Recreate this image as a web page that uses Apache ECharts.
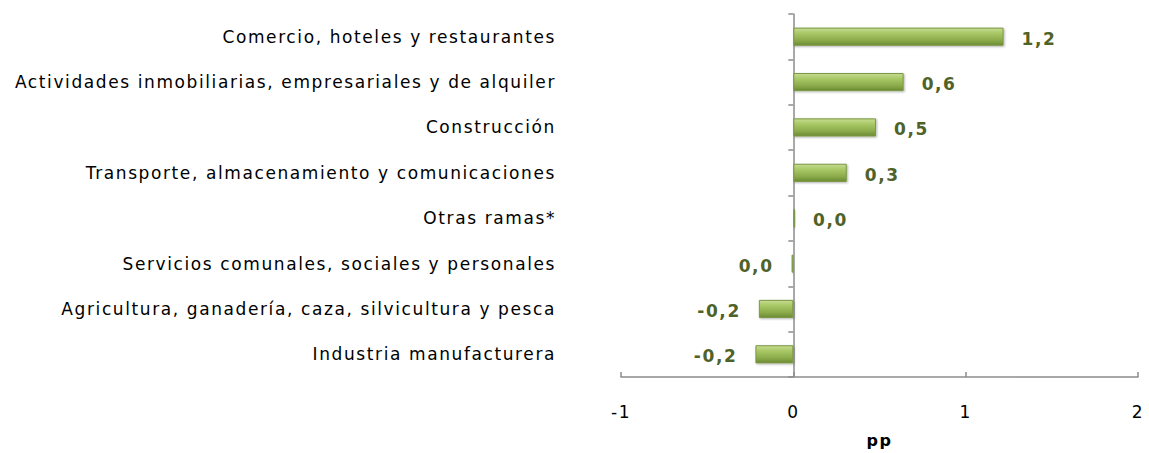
<!DOCTYPE html>
<html>
<head>
<meta charset="utf-8">
<script src="https://cdn.jsdelivr.net/npm/echarts@6/dist/echarts.min.js"></script>
<style>
html,body{margin:0;padding:0;background:#fff}
#c{width:1149px;height:453px}
#c svg text{letter-spacing:1.6px}
</style>
</head>
<body>
<div id="c"></div>
<script>
const categories = [
  'Comercio, hoteles y restaurantes',
  'Actividades inmobiliarias, empresariales y de alquiler',
  'Construcción',
  'Transporte, almacenamiento y comunicaciones',
  'Otras ramas*',
  'Servicios comunales, sociales y personales',
  'Agricultura, ganadería, caza, silvicultura y pesca',
  'Industria manufacturera'
];
const values = [1.22, 0.64, 0.48, 0.31, 0.01, -0.01, -0.2, -0.22];
const xTicks = [-1, 0, 1, 2];

const fmt = v => {
  const r = Math.round(v * 10) / 10;
  return (r === 0 ? 0 : r).toFixed(1).replace('.', ',');
};

const chart = echarts.init(document.getElementById('c'), null, { renderer: 'svg' });
const fontFam = '"DejaVu Sans", sans-serif';
chart.setOption({
  animation: false,
  grid: { left: 621, right: 11, top: 14, bottom: 75, containLabel: false },
  xAxis: {
    type: 'value', min: xTicks[0], max: xTicks[xTicks.length - 1], interval: 1,
    axisLine: { show: true, lineStyle: { color: '#8c8c8c', width: 1.5 } },
    axisTick: { show: true, inside: true, length: 5, lineStyle: { color: '#8c8c8c', width: 1.5 } },
    splitLine: { show: false },
    axisLabel: { color: '#000', fontSize: 17, fontFamily: fontFam, margin: 26 },
    name: 'pp', nameLocation: 'middle', nameGap: 55,
    nameTextStyle: { fontWeight: 'bold', fontSize: 16, fontFamily: fontFam, color: '#000' }
  },
  yAxis: [
    {
      type: 'category', data: categories, inverse: true,
      axisLine: { show: false, onZero: false },
      axisTick: { show: false },
      axisLabel: { color: '#000', fontSize: 17, fontFamily: fontFam, margin: 65 }
    },
    {
      type: 'category', data: categories, inverse: true, position: 'left',
      axisLine: { show: true, onZero: true, lineStyle: { color: '#8c8c8c', width: 1.5 } },
      axisTick: { show: true, length: 5, lineStyle: { color: '#8c8c8c', width: 1.5 } },
      axisLabel: { show: false }
    }
  ],
  series: [{
    type: 'bar', yAxisIndex: 0, barWidth: '40%',
    data: values.map(v => ({
      value: v,
      label: { position: v >= 0 ? 'right' : 'left' }
    })),
    itemStyle: {
      color: new echarts.graphic.LinearGradient(0, 0, 0, 1, [
        { offset: 0, color: '#c6dc92' },
        { offset: 0.3, color: '#a9c866' },
        { offset: 0.7, color: '#8cac4c' },
        { offset: 1, color: '#6c8b33' }
      ]),
      borderColor: '#7a9844', borderWidth: 1,
      shadowColor: 'rgba(0,0,0,0.3)', shadowBlur: 2, shadowOffsetX: 1, shadowOffsetY: 1
    },
    label: {
      show: true, distance: 18, color: '#4f6228', fontWeight: 'bold',
      fontSize: 17, fontFamily: fontFam, offset: [0, 2],
      formatter: p => fmt(p.value)
    }
  }]
});
</script>
</body>
</html>
